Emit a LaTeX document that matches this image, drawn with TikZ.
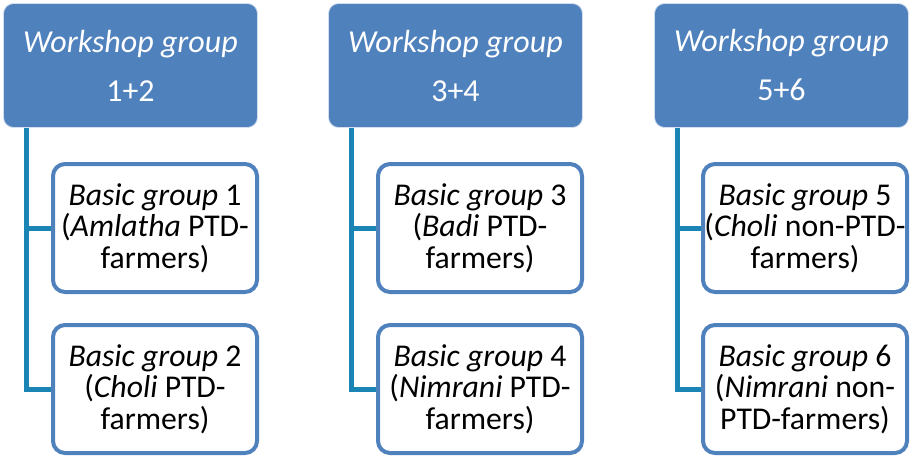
\documentclass[tikz,border=0pt]{standalone}
\usepackage{fontspec}
\setmainfont{Carlito}
\definecolor{boxblue}{HTML}{4F81BD}
\definecolor{linkteal}{HTML}{1A85B5}
\tikzset{
  wsbox/.style={rectangle, rounded corners=10pt, fill=boxblue, draw=white!75!boxblue, line width=0.8pt,
    minimum width=254pt, minimum height=124pt, inner sep=0pt, text=white, align=center,
    font=\fontsize{32}{49}\selectfont},
  basicbox/.style={rectangle, rounded corners=12pt, fill=white, draw=boxblue, line width=4pt,
    minimum width=204pt, minimum height=128pt, inner sep=0pt, text=black, align=center,
    font=\fontsize{31.7}{31.5}\selectfont},
  link/.style={draw=linkteal, line width=5pt}
}
\begin{document}
\begin{tikzpicture}[x=1pt, y=-1pt]
  \useasboundingbox[fill=white] (0,0) rectangle (910,459);

  % workshop groups
  \node[wsbox] (w1) at (130.5,65.5) {\textit{Workshop group}\\1+2};
  \node[wsbox] (w2) at (455.5,65.5) {\textit{Workshop group}\\3+4};
  \node[wsbox] (w3) at (781.5,65.5) {\textit{Workshop group}\\5+6};

  % basic groups
  \node[basicbox] (b1) at (155,228) {\textit{Basic group} 1\\(\textit{Amlatha} PTD-\\farmers)};
  \node[basicbox] (b2) at (155,389) {\textit{Basic group} 2\\(\textit{Choli} PTD-\\farmers)};
  \node[basicbox] (b3) at (480,228) {\textit{Basic group} 3\\(\textit{Badi} PTD-\\farmers)};
  \node[basicbox] (b4) at (480,389) {\textit{Basic group} 4\\(\textit{Nimrani} PTD-\\farmers)};
  \node[basicbox] (b5) at (805,228) {\textit{Basic group} 5\\(\textit{Choli} non-PTD-\\farmers)};
  \node[basicbox] (b6) at (805,389) {\textit{Basic group} 6\\(\textit{Nimrani} non-\\PTD-farmers)};

  % vertical trunk positions
  \coordinate (v1) at (26,0);
  \coordinate (v2) at (351,0);
  \coordinate (v3) at (677,0);

  % connectors
  \foreach \w/\v/\a/\b in {w1/v1/b1/b2, w2/v2/b3/b4, w3/v3/b5/b6}{
    \draw[link] (\w.south -| \v) |- (\b.west);
    \draw[link] (\v |- \a.west) -- (\a.west);
  }
\end{tikzpicture}
\end{document}
